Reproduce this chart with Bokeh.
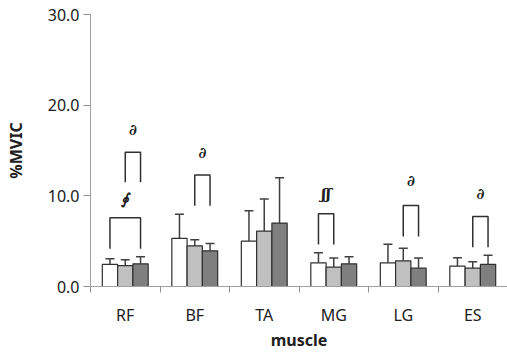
from bokeh.plotting import figure
from bokeh.models import ColumnDataSource, FixedTicker, Whisker, TeeHead, Range1d
from bokeh.core.properties import value
from bokeh.embed import file_html
from bokeh.resources import INLINE

muscles = ["RF", "BF", "TA", "MG", "LG", "ES"]
white_vals = [2.43, 5.3, 5.0, 2.61, 2.61, 2.24]
white_err = [0.63, 2.68, 3.35, 1.11, 2.06, 0.93]
light_vals = [2.3, 4.49, 6.1, 2.13, 2.83, 2.02]
light_err = [0.64, 0.66, 3.54, 1.0, 1.4, 0.7]
dark_vals = [2.5, 3.94, 6.99, 2.5, 2.02, 2.43]
dark_err = [0.78, 0.81, 5.0, 0.78, 1.11, 1.03]
yticks = [0, 10, 20, 30]

# significance brackets: category index, from bar, to bar (0=white,1=light,2=dark)
br_cat = [0, 0, 1, 3, 4, 5]
br_from = [0, 1, 1, 0, 1, 1]
br_to = [2, 2, 2, 1, 2, 2]
br_top = [7.58, 14.8, 12.3, 8.02, 8.94, 7.73]
br_bottom = [4.16, 11.5, 8.9, 4.64, 5.52, 4.34]
br_sym = ["∮", "∂", "∂", "ʃʃ", "∂", "∂"]
br_sym_y = [9.6, 17.3, 14.7, 10.2, 11.6, 10.2]

offsets = [-0.22, 0.0, 0.22]
bw = 0.22
colors = ["#ffffff", "#c0c0c0", "#7f7f7f"]
series = [(white_vals, white_err), (light_vals, light_err), (dark_vals, dark_err)]

p = figure(width=507, height=354, output_backend="svg", toolbar_location=None,
           x_range=Range1d(0, 6), y_range=Range1d(0, 30),
           min_border_left=90, min_border_right=0, min_border_top=14, min_border_bottom=68)
p.outline_line_color = None
p.grid.visible = False
p.background_fill_color = "white"

for k, (vals, errs) in enumerate(series):
    xs = [i + 0.5 + offsets[k] for i in range(len(muscles))]
    src = ColumnDataSource(dict(x=xs, top=vals, up=[v + e for v, e in zip(vals, errs)]))
    w = Whisker(source=src, base="x", lower="top", upper="up", dimension="height",
                line_color="#404040", line_width=1.5,
                upper_head=TeeHead(size=9, line_color="#404040", line_width=1.5),
                lower_head=None)
    p.add_layout(w)
    p.vbar(x="x", top="top", bottom=0, width=bw, source=src, fill_color=colors[k],
           line_color="#303030", line_width=1.2)

bx, by, sx = [], [], []
for c, f, t, top, bot in zip(br_cat, br_from, br_to, br_top, br_bottom):
    x0 = c + 0.5 + offsets[f]
    x1 = c + 0.5 + offsets[t]
    bx.append([x0, x0, x1, x1])
    by.append([bot, top, top, bot])
    sx.append((x0 + x1) / 2)
p.multi_line(xs=bx, ys=by, line_color="#303030", line_width=1.5)
p.text(x=sx, y=br_sym_y, text=br_sym, text_align="center", text_baseline="middle",
       text_font=value("DejaVu Serif"), text_font_style="bold italic",
       text_font_size="15px", text_color="#202020")

ax = p.xaxis[0]
ax.ticker = FixedTicker(ticks=[i + 0.5 for i in range(len(muscles))],
                        minor_ticks=list(range(len(muscles) + 1)))
ax.major_label_overrides = {i + 0.5: m for i, m in enumerate(muscles)}
ax.major_tick_out = 0
ax.major_tick_in = 0
ax.minor_tick_out = 6
ax.minor_tick_in = 0
ax.minor_tick_line_color = "#909090"
ax.axis_line_color = "#a0a0a0"
ax.major_label_standoff = 11
ax.major_label_text_font = "Noto Sans"
ax.major_label_text_font_size = "16px"
ax.major_label_text_color = "#202020"
ax.axis_label = "muscle"
ax.axis_label_text_font = "Noto Sans"
ax.axis_label_text_font_style = "bold"
ax.axis_label_text_font_size = "16px"
ax.axis_label_standoff = 0
ax.axis_label_text_color = "#202020"

ay = p.yaxis[0]
ay.ticker = FixedTicker(ticks=yticks, minor_ticks=[])
ay.major_label_overrides = {t: f"{t:.1f}" for t in yticks}
ay.major_tick_out = 7
ay.major_tick_in = 0
ay.major_tick_line_color = "#909090"
ay.axis_line_color = "#a0a0a0"
ay.major_label_standoff = 4
ay.major_label_text_font = "Noto Sans"
ay.major_label_text_font_size = "16px"
ay.major_label_text_color = "#202020"
ay.axis_label = "%MVIC"
ay.axis_label_text_font = "Noto Sans"
ay.axis_label_text_font_style = "bold"
ay.axis_label_text_font_size = "16px"
ay.axis_label_standoff = 18
ay.axis_label_text_color = "#202020"

p.frame_height = 272
p.frame_width = 417

open("out.html", "w").write(file_html(p, INLINE))
